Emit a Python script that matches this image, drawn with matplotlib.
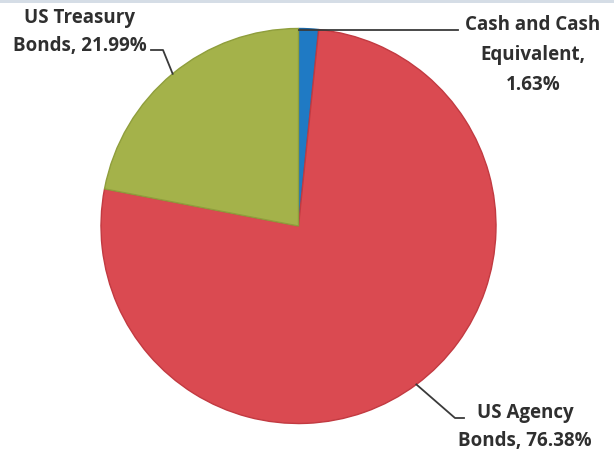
import numpy as np
import matplotlib
matplotlib.use('Agg')
import matplotlib.pyplot as plt

labels = ['Cash and Cash\nEquivalent,\n1.63%', 'US Agency\nBonds, 76.38%', 'US Treasury\nBonds, 21.99%']
values = [1.63, 76.38, 21.99]
colors = ['#1f7ac4', '#da4a51', '#a4b24a']
edges = ['#1a65a3', '#c23a41', '#8f9e3c']

W, H = 614, 453
fig = plt.figure(figsize=(W / 100, H / 100), dpi=100)
ax = fig.add_axes([0, 0, 1, 1])

cx, cy, r = 298.5, H - 226, 197.5
wedges, _ = ax.pie(values, colors=colors, startangle=90, counterclock=False,
                   center=(cx, cy), radius=r, frame=True,
                   wedgeprops=dict(linewidth=1.0))
for w, ec in zip(wedges, edges):
    w.set_edgecolor(ec)
ax.set_xlim(0, W); ax.set_ylim(0, H)
ax.set_aspect('equal'); ax.axis('off')

# faint strip along the top like the scanned original
ax.axhspan(H - 3, H, color='#d5dde6', lw=0)

def edge_pt(w):
    a = np.deg2rad((w.theta1 + w.theta2) / 2)
    return cx + r * np.cos(a), cy + r * np.sin(a)

tkw = dict(fontsize=13.5, fontweight='bold', color='#2f2f2f', family=['Open Sans', 'DejaVu Sans'])
lkw = dict(color='#3a3a3a', lw=1.3)

# Cash
x0, y0 = edge_pt(wedges[0])
ax.plot([x0 - 10, 458], [H - 30, H - 30], **lkw)
ax.text(533, H - 55, labels[0], ha='center', va='center', linespacing=1.65, **tkw)

# US Agency
x1, y1 = edge_pt(wedges[1])
ax.plot([x1, 455, 464], [y1, H - 418, H - 418], **lkw)
ax.text(525, H - 427, labels[1], ha='center', va='center', linespacing=1.55, **tkw)

# US Treasury
x2, y2 = edge_pt(wedges[2])
ax.plot([151, 163, x2], [H - 50, H - 50, y2], **lkw)
ax.text(80, H - 32, labels[2], ha='center', va='center', linespacing=1.5, **tkw)

fig.savefig('out.png', dpi=100, facecolor='white')
